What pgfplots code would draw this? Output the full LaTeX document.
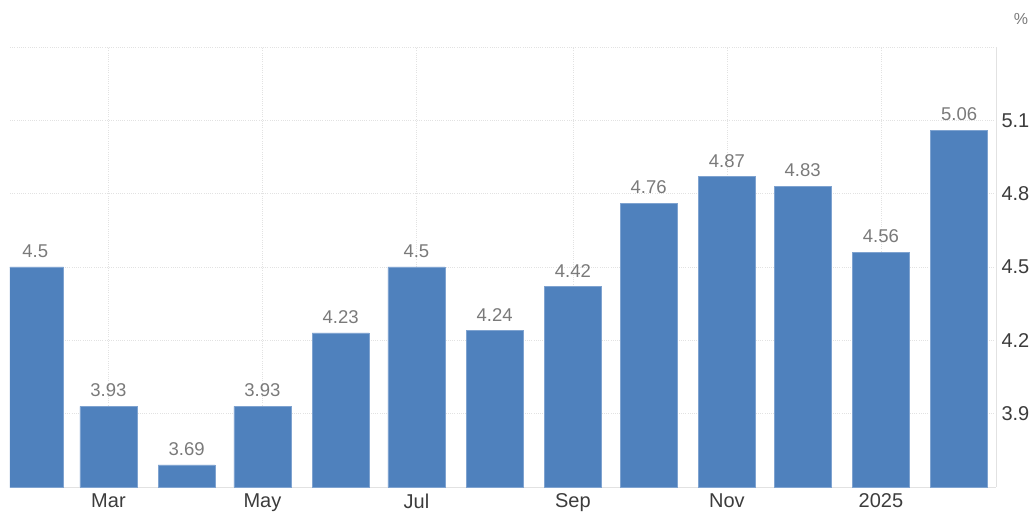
\documentclass[border=0pt]{standalone}
\usepackage{pgfplots}
\pgfplotsset{compat=1.18}
\usepackage{fontspec}
\setmainfont{Liberation Sans}
\definecolor{barblue}{HTML}{4F81BD}
\definecolor{baredge}{HTML}{7FA3D0}
\definecolor{valgray}{HTML}{7A7A7A}
\definecolor{tickgray}{HTML}{3C3C3C}
\definecolor{gridgray}{HTML}{E2E2E2}
\begin{document}
\begin{tikzpicture}
\begin{axis}[
  name=ax,
  at={(0,0)}, anchor=south west,
  scale only axis, width=986bp, height=440bp,
  xmin=-10, xmax=380.6, ymin=3.6, ymax=5.4,
  axis x line*=bottom, axis y line*=right,
  axis line style={draw=gridgray, line width=0.8pt},
  major tick length=0pt,
  grid=major,
  major grid style={dash pattern=on 1bp off 1.2bp, draw=gridgray, line width=0.8pt},
  xtick={29,90,151,213,274,335},
  xticklabels={Mar,May,Jul,Sep,Nov,2025},
  ytick={3.9,4.2,4.5,4.8,5.1,5.4},
  yticklabels={3.9,4.2,4.5,4.8,5.1,},
  ticklabel style={font=\fontsize{20bp}{22bp}\selectfont, text=tickgray},
  xticklabel style={yshift=-3bp},
  yticklabel style={xshift=2bp},
  /pgf/number format/assume math mode=true,
  ybar, bar width=57bp,
  nodes near coords,
  every node near coord/.append style={font=\fontsize{18.5bp}{20bp}\selectfont, text=valgray, inner sep=0pt, yshift=9bp},
]
\addplot[fill=barblue, draw=baredge, line width=0.6pt] coordinates {
  (0,4.5) (29,3.93) (60,3.69) (90,3.93) (121,4.23) (151,4.5) (182,4.24)
  (213,4.42) (243,4.76) (274,4.87) (304,4.83) (335,4.56) (366,5.06)
};
\end{axis}
\node[text=valgray, font=\fontsize{16bp}{18bp}\selectfont] at (ax.north east) [xshift=25bp, yshift=28bp] {\%};
\pgfresetboundingbox
\path[use as bounding box] (-10bp,-26bp) rectangle (1026bp,487bp);
\end{tikzpicture}
\end{document}
